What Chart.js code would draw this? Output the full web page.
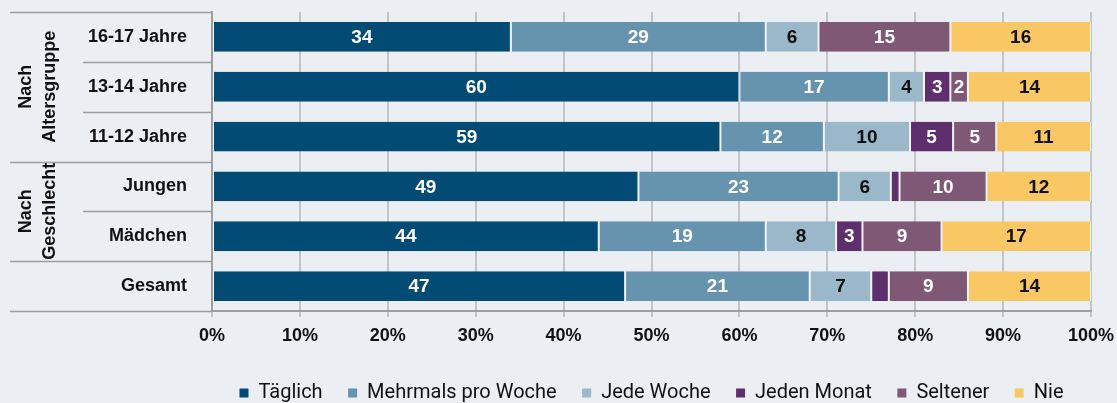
<!DOCTYPE html>
<html lang="de">
<head>
<meta charset="utf-8">
<title>Nutzung nach Altersgruppe und Geschlecht</title>
<script src="https://cdn.jsdelivr.net/npm/chart.js@4.4.1/dist/chart.umd.min.js"></script>
<style>
  html, body { margin: 0; padding: 0; background: #ebeef2; }
  #wrap { width: 1117px; height: 403px; }
</style>
</head>
<body>
<div id="wrap"><canvas id="myChart" width="1117" height="403"></canvas></div>
<script>
// rows, top to bottom
const rows = ['16-17 Jahre', '13-14 Jahre', '11-12 Jahre', 'Jungen', 'Mädchen', 'Gesamt'];

// printed values per answer (percent, rounded as in the picture)
const taeglich   = [34, 60, 59, 49, 44, 47];
const mehrmals   = [29, 17, 12, 23, 19, 21];
const jedeWoche  = [ 6,  4, 10,  6,  8,  7];
const jedenMonat = [ 0,  3,  5,  1,  3,  2];
const seltener   = [15,  2,  5, 10,  9,  9];
const nie        = [16, 14, 11, 12, 17, 14];

const seriesNames = ['Täglich', 'Mehrmals pro Woche', 'Jede Woche', 'Jeden Monat', 'Seltener', 'Nie'];
const seriesColors = ['#024b74', '#6693ae', '#9bb7ca', '#5f2e6c', '#7f5876', '#f9c864'];
const labelColors = ['#ffffff', '#ffffff', '#111111', '#ffffff', '#ffffff', '#111111'];

// groups on the left side
const groupNames = [['Nach', 'Altersgruppe'], ['Nach', 'Geschlecht']];
const groupRows = [[0, 2], [3, 4]];

// segments without a printed number: [series, row]
const unlabelled = [[3, 3], [3, 5]];

const xTicks = [0, 10, 20, 30, 40, 50, 60, 70, 80, 90, 100];

const allSeries = [taeglich, mehrmals, jedeWoche, jedenMonat, seltener, nie];
// the printed numbers are rounded, so each row is scaled to 100 %
const rowSums = rows.map((r, i) => allSeries.reduce((a, s) => a + s[i], 0));

const datasets = allSeries.map((s, k) => ({
    label: seriesNames[k],
    data: s.map((v, i) => v / rowSums[i] * 100),
    printed: s,
    backgroundColor: seriesColors[k],
    borderColor: '#f4f6f8',
    borderWidth: {left: 1, right: 1, top: 0, bottom: 0},
    borderSkipped: false,
    categoryPercentage: 1,
    barPercentage: 0.6
}));

const baseFont = "'Liberation Sans', Arial, sans-serif";

const bgPlugin = {
    id: 'bg',
    beforeDraw(chart) {
        const ctx = chart.ctx;
        ctx.save();
        ctx.fillStyle = '#ebeef2';
        ctx.fillRect(0, 0, chart.width, chart.height);
        ctx.restore();
    }
};

const valueLabels = {
    id: 'valueLabels',
    afterDatasetsDraw(chart) {
        const ctx = chart.ctx;
        ctx.save();
        ctx.font = 'bold 19px ' + baseFont;
        ctx.textAlign = 'center';
        ctx.textBaseline = 'middle';
        chart.data.datasets.forEach((ds, k) => {
            const meta = chart.getDatasetMeta(k);
            meta.data.forEach((el, i) => {
                const v = ds.printed[i];
                if (!v) return;
                if (unlabelled.some(u => u[0] === k && u[1] === i)) return;
                ctx.fillStyle = labelColors[k];
                ctx.fillText(String(v), (el.x + el.base) / 2, el.y + 1);
            });
        });
        ctx.restore();
    }
};

const groupPlugin = {
    id: 'groups',
    afterDraw(chart) {
        const ctx = chart.ctx;
        const y = chart.scales.y;
        const area = chart.chartArea;
        const step = y.getPixelForValue(1) - y.getPixelForValue(0);
        const edge = i => y.getPixelForValue(i) - step / 2;
        const groupEdges = [0];
        groupRows.forEach(g => groupEdges.push(g[1] + 1));
        groupEdges.push(rows.length);

        ctx.save();
        ctx.strokeStyle = '#9d9d9d';
        ctx.lineWidth = 1.5;
        for (let i = 0; i <= rows.length; i++) {
            const py = i === 0 ? area.top : (i === rows.length ? area.bottom : edge(i));
            const x0 = groupEdges.includes(i) ? 10 : 83;
            ctx.beginPath();
            ctx.moveTo(x0, Math.round(py) + 0.5);
            ctx.lineTo(area.left, Math.round(py) + 0.5);
            ctx.stroke();
        }

        ctx.fillStyle = '#111111';
        ctx.font = 'bold 18px ' + baseFont;
        ctx.textAlign = 'center';
        ctx.textBaseline = 'middle';
        groupRows.forEach((g, n) => {
            const cy = (y.getPixelForValue(g[0]) + y.getPixelForValue(g[1])) / 2;
            ctx.save();
            ctx.translate(38, cy);
            ctx.rotate(-Math.PI / 2);
            ctx.fillText(groupNames[n][0], 0, -12);
            ctx.fillText(groupNames[n][1], 0, 12);
            ctx.restore();
        });
        ctx.restore();
    }
};

new Chart(document.getElementById('myChart'), {
    type: 'bar',
    data: {labels: rows, datasets: datasets},
    options: {
        indexAxis: 'y',
        responsive: false,
        animation: false,
        layout: {padding: {top: 12, right: 26, left: 0, bottom: -10}},
        scales: {
            x: {
                stacked: true,
                min: 0,
                max: 100,
                afterBuildTicks(scale) {
                    scale.ticks = xTicks.map(v => ({value: v}));
                },
                afterFit(scale) {
                    scale.height = 71;
                    scale.paddingLeft = 0;
                    scale.paddingRight = 0;
                },
                grid: {color: '#c4c4c4', lineWidth: 2, tickLength: 6, drawOnChartArea: true},
                border: {display: true, color: '#9e9e9e', width: 2},
                ticks: {
                    padding: 8,
                    color: '#111111',
                    font: {family: baseFont, size: 18, weight: 'bold'},
                    callback: v => v + '%'
                }
            },
            y: {
                stacked: true,
                afterFit(scale) {
                    scale.width = 212;
                    scale.paddingTop = 0;
                    scale.paddingBottom = 0;
                },
                grid: {display: false, drawTicks: false},
                border: {display: true, color: '#9e9e9e', width: 2},
                ticks: {
                    padding: 25,
                    color: '#111111',
                    font: {family: baseFont, size: 18, weight: 'bold'}
                }
            }
        },
        plugins: {
            tooltip: {enabled: false},
            legend: {
                position: 'bottom',
                fullSize: false,
                labels: {
                    boxWidth: 9,
                    boxHeight: 9,
                    padding: 1,
                    color: '#111111',
                    font: {family: "Roboto, 'Liberation Sans', sans-serif", size: 20},
                    generateLabels(chart) {
                        return chart.data.datasets.map((ds, k) => ({
                            text: ds.label + (k < seriesNames.length - 1 ? '\u2003\u2009' : ''),
                            fillStyle: ds.backgroundColor,
                            strokeStyle: ds.backgroundColor,
                            lineWidth: 0,
                            fontColor: '#111111',
                            datasetIndex: k,
                            hidden: false
                        }));
                    }
                }
            }
        }
    },
    plugins: [bgPlugin, valueLabels, groupPlugin]
});
</script>
</body>
</html>
